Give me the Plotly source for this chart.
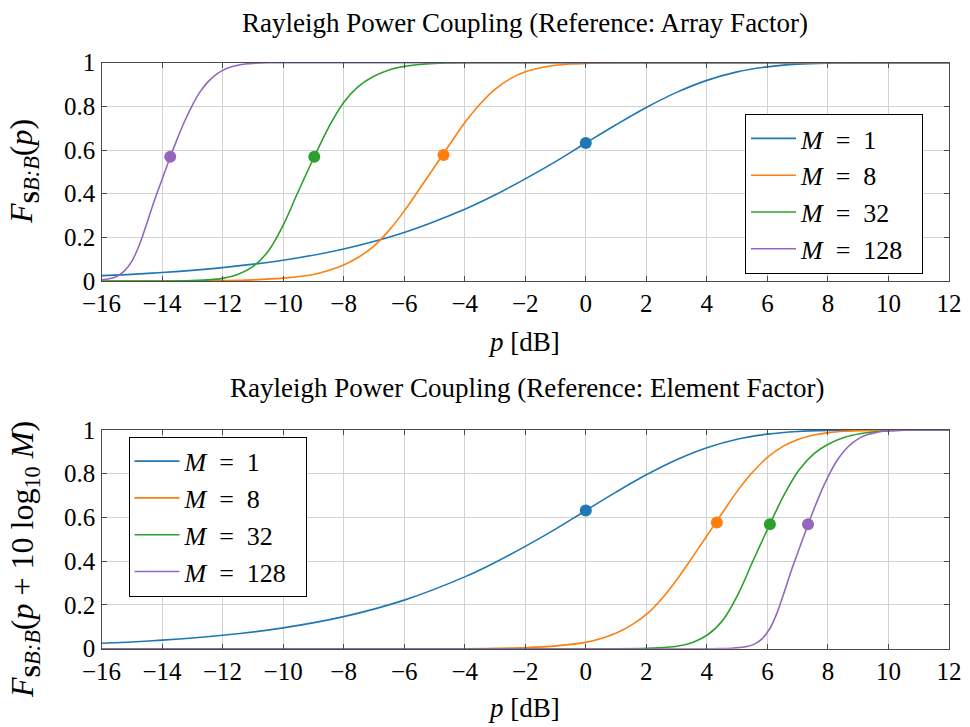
import plotly.graph_objects as go
import math

# ---- data (top-plot coordinates, p in dB) ----
M_values = [1, 8, 32, 128]
colors = ["#1f77b4", "#ff7f0e", "#2ca02c", "#9467bd"]

p_M1 = [-40, -16, -14, -12, -10, -8, -6, -4, -3, -2, -1, 0, 1, 2, 3, 4, 5, 6, 7, 8, 9, 10, 12]
F_M1 = [0.0, 0.0248, 0.039, 0.0612, 0.0952, 0.1466, 0.2221, 0.3284, 0.394, 0.468, 0.547, 0.6321,
        0.716, 0.795, 0.864, 0.919, 0.958, 0.981, 0.9933, 0.9982, 0.9996, 1.0, 1.0]

p_M8 = [-40, -13, -12, -11, -10, -9, -8.5, -8, -7.5, -7, -6.5, -6, -5.5, -5, -4.5, -4, -3.5, -3,
        -2.5, -2, -1.5, -1, -0.5, 0, 1, 2, 12]
F_M8 = [0.0, 0.0, 0.0015, 0.005, 0.013, 0.030, 0.048, 0.073, 0.110, 0.160, 0.232, 0.320, 0.420,
        0.522, 0.625, 0.725, 0.810, 0.878, 0.926, 0.958, 0.977, 0.988, 0.994, 0.997, 0.9995, 1.0, 1.0]

p_M32 = [-40, -14, -13, -12.5, -12, -11.5, -11, -10.5, -10, -9.5, -9, -8.5, -8, -7.5, -7, -6.5,
         -6, -5.5, -5, -4.5, -4, 12]
F_M32 = [0.0, 0.0, 0.002, 0.005, 0.012, 0.030, 0.066, 0.135, 0.255, 0.41, 0.56, 0.703, 0.818,
         0.893, 0.938, 0.967, 0.983, 0.992, 0.997, 0.999, 1.0, 1.0]

p_M128 = [-40, -17, -16.5, -16.25, -16, -15.75, -15.5, -15.25, -15, -14.75, -14.5, -14.25, -14,
          -13.75, -13.5, -13.25, -13, -12.75, -12.5, -12.25, -12, -11.75, -11.5, -11.25, -11,
          -10.5, -10, 12]
F_M128 = [0.0, 0.0, 0.001, 0.002, 0.005, 0.010, 0.021, 0.045, 0.090, 0.165, 0.265, 0.37, 0.465,
          0.56, 0.65, 0.733, 0.805, 0.865, 0.91, 0.942, 0.965, 0.979, 0.988, 0.994, 0.997,
          0.9995, 1.0, 1.0]

marker_p = [0.0, -4.70, -8.97, -13.73]
marker_F = [0.632, 0.577, 0.569, 0.569]

curves_p = [p_M1, p_M8, p_M32, p_M128]
curves_F = [F_M1, F_M8, F_M32, F_M128]

x_ticks = list(range(-16, 13, 2))
y_ticks = [0, 0.2, 0.4, 0.6, 0.8, 1]
y_tick_text = ["0", "0.2", "0.4", "0.6", "0.8", "1"]

titles = ["Rayleigh Power Coupling (Reference: Array Factor)",
          "Rayleigh Power Coupling (Reference: Element Factor)"]

W, H = 970, 727
serif = "Liberation Serif, Times New Roman, serif"
SP = "\u2002"

fig = go.Figure()

for panel in range(2):
    xa = "x" if panel == 0 else "x2"
    ya = "y" if panel == 0 else "y2"
    lg = "legend" if panel == 0 else "legend2"
    for i, M in enumerate(M_values):
        shift = 0.0 if panel == 0 else 10 * math.log10(M)
        xs = [p + shift for p in curves_p[i]]
        fig.add_trace(go.Scatter(
            x=xs, y=curves_F[i], mode="lines", xaxis=xa, yaxis=ya,
            line=dict(color=colors[i], width=1.6, shape="spline", smoothing=1.0),
            name=f"<i>M</i>{SP}={SP}{M}{SP}", legend=lg, showlegend=True))
        fig.add_trace(go.Scatter(
            x=[marker_p[i] + shift], y=[marker_F[i]], mode="markers", xaxis=xa, yaxis=ya,
            marker=dict(color=colors[i], size=12), showlegend=False, cliponaxis=False))

def px2fx(px):
    return px / W

def py2fy(py):
    return 1 - py / H

axis_common = dict(
    automargin=False,
    showgrid=True, gridcolor="#d2d2d2", gridwidth=1,
    showline=True, linecolor="#4a4a4a", linewidth=1.4, mirror="ticks",
    ticks="inside", ticklen=5, tickcolor="#4a4a4a", tickwidth=1,
    zeroline=False, tickfont=dict(family=serif, size=25, color="black"),
)

top_dom = [py2fy(281), py2fy(62.7)]
bot_dom = [py2fy(648.7), py2fy(430)]
x_dom = [px2fx(101.5), px2fx(949)]

legend_common = dict(bgcolor="white", bordercolor="black", borderwidth=1,
                     font=dict(family=serif, size=26, color="black"), itemwidth=45,
                     tracegroupgap=0)

fig.update_layout(
    template="plotly_white",
    width=W, height=H, margin=dict(l=0, r=0, t=0, b=0, autoexpand=False),
    paper_bgcolor="white", plot_bgcolor="white",
    xaxis=dict(domain=x_dom, anchor="y", range=[-16, 12], tickvals=x_ticks, **axis_common),
    yaxis=dict(domain=top_dom, anchor="x", range=[0, 1], tickvals=y_ticks, ticktext=y_tick_text, **axis_common),
    xaxis2=dict(domain=x_dom, anchor="y2", range=[-16, 12], tickvals=x_ticks, **axis_common),
    yaxis2=dict(domain=bot_dom, anchor="x2", range=[0, 1], tickvals=y_ticks, ticktext=y_tick_text, **axis_common),
    legend=dict(x=px2fx(923), y=py2fy(274), xanchor="right", yanchor="bottom", **legend_common),
    legend2=dict(x=px2fx(128.5), y=py2fy(436.7), xanchor="left", yanchor="top", **legend_common),
    showlegend=True,
)

ann_font = dict(family=serif, size=27, color="black")
lab_font = dict(family=serif, size=32, color="black")
annotations = [
    dict(text=titles[0], x=px2fx(525), y=py2fy(23), xref="paper", yref="paper",
         showarrow=False, font=ann_font, xanchor="center", yanchor="middle"),
    dict(text=titles[1], x=px2fx(527), y=py2fy(388), xref="paper", yref="paper",
         showarrow=False, font=ann_font, xanchor="center", yanchor="middle"),
    dict(text="<i>p</i> [dB]", x=px2fx(524), y=py2fy(342), xref="paper", yref="paper",
         showarrow=False, font=dict(family=serif, size=27, color="black"),
         xanchor="center", yanchor="middle"),
    dict(text="<i>p</i> [dB]", x=px2fx(524), y=py2fy(708), xref="paper", yref="paper",
         showarrow=False, font=dict(family=serif, size=27, color="black"),
         xanchor="center", yanchor="middle"),
    dict(text="<i>F</i><sub><b>S</b><i>B:B</i></sub>(<i>p</i>)", x=px2fx(24), y=py2fy(172),
         xref="paper", yref="paper", showarrow=False, textangle=-90,
         font=lab_font, xanchor="center", yanchor="middle"),
    dict(text="<i>F</i><sub><b>S</b><i>B:B</i></sub>(<i>p</i> + 10 log<sub>10</sub> <i>M</i>)",
         x=px2fx(24), y=py2fy(560),
         xref="paper", yref="paper", showarrow=False, textangle=-90,
         font=lab_font, xanchor="center", yanchor="middle"),
]
fig.update_layout(annotations=annotations)

fig.write_html("out.html")
